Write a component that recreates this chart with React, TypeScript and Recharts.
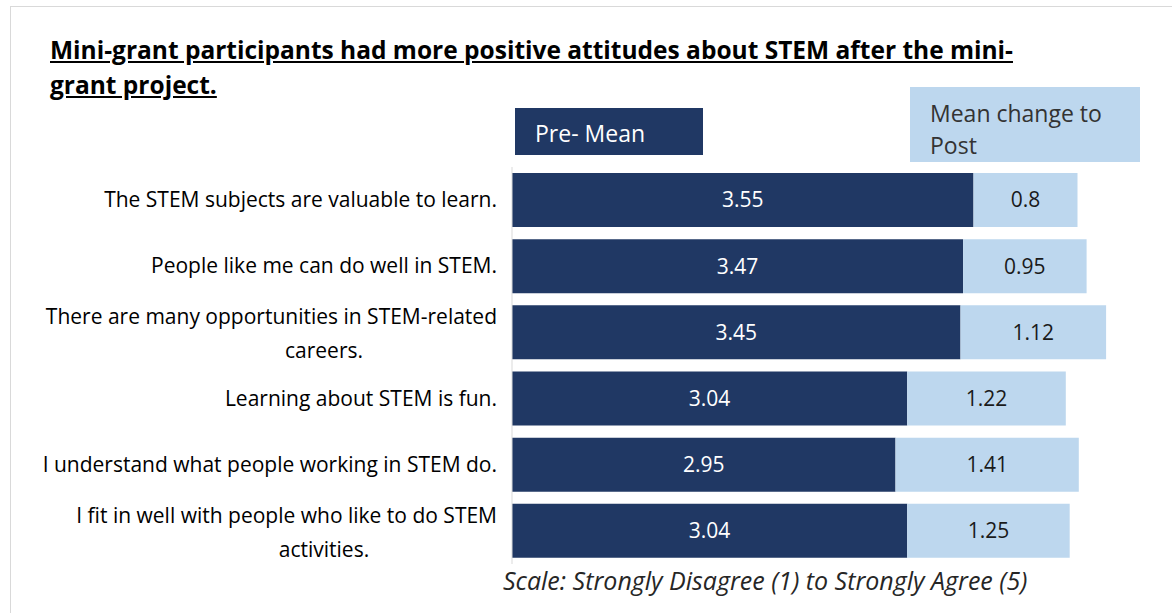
import { Bar, BarChart, LabelList, XAxis, YAxis } from 'recharts';

const statements = [
  ['The STEM subjects are valuable to learn.'],
  ['People like me can do well in STEM.'],
  ['There are many opportunities in STEM-related', 'careers.'],
  ['Learning about STEM is fun.'],
  ['I understand what people working in STEM do.'],
  ['I fit in well with people who like to do STEM', 'activities.'],
];
const preMean = [3.55, 3.47, 3.45, 3.04, 2.95, 3.04];
const meanChange = [0.8, 0.95, 1.12, 1.22, 1.41, 1.25];

const DARK = '#203864';
const LIGHT = '#BDD7EE';
const FONT = '"Open Sans", "Noto Sans", sans-serif';

const data = statements.map((lines, i) => ({
  label: lines.join(' '),
  lines,
  pre: preMean[i],
  change: meanChange[i],
}));

const StatementTick = ({ x, y, index }: any) => {
  const lines = data[index]?.lines ?? [];
  if (lines.length === 1) {
    return (
      <text x={x - 7} y={y} dy={7} textAnchor='end' fontSize={21} fill='#000' fontFamily={FONT}>
        {lines[0]}
      </text>
    );
  }
  return (
    <g>
      <text x={x - 7} y={y - 15} dy={7} textAnchor='end' fontSize={21} fill='#000' fontFamily={FONT}>
        {lines[0]}
      </text>
      <text x={x - 180} y={y + 19} dy={7} textAnchor='middle' fontSize={21} fill='#000' fontFamily={FONT}>
        {lines[1]}
      </text>
    </g>
  );
};

export default function App() {
  return (
    <div
      style={{
        position: 'absolute',
        left: 0,
        top: 0,
        width: 1172,
        height: 613,
        overflow: 'hidden',
        background: '#fff',
        fontFamily: FONT,
      }}
    >
      {/* frame */}
      <div
        style={{
          position: 'absolute',
          left: 10,
          top: 6,
          width: 1200,
          height: 700,
          border: '1px solid #d9d9d9',
        }}
      />
      <div
        style={{
          position: 'absolute',
          left: 50,
          top: 32,
          fontSize: 24.5,
          fontWeight: 700,
          lineHeight: '35px',
          textDecoration: 'underline',
          color: '#000',
          whiteSpace: 'nowrap',
        }}
      >
        <div>Mini-grant participants had more positive attitudes about STEM after the mini-</div>
        <div>grant project.</div>
      </div>

      {/* legend boxes */}
      <div
        style={{
          position: 'absolute',
          left: 515,
          top: 108,
          width: 188,
          height: 47,
          background: DARK,
          color: '#fff',
          fontSize: 23,
          lineHeight: '50px',
          paddingLeft: 20,
          boxSizing: 'border-box',
          whiteSpace: 'nowrap',
        }}
      >
        Pre- Mean
      </div>
      <div
        style={{
          position: 'absolute',
          left: 910,
          top: 87,
          width: 230,
          height: 75,
          background: LIGHT,
          color: '#333',
          fontSize: 23,
          lineHeight: '32px',
          padding: '10px 0 0 20px',
          boxSizing: 'border-box',
          whiteSpace: 'nowrap',
        }}
      >
        Mean change to
        <br />
        Post
      </div>

      <div style={{ position: 'absolute', left: 0, top: 0 }}>
        <BarChart
          width={1172}
          height={613}
          data={data}
          layout='vertical'
          margin={{ top: 167, right: 10, bottom: 49, left: 0 }}
        >
          <XAxis type='number' domain={[0, 5]} hide />
          <YAxis
            type='category'
            dataKey='label'
            width={512}
            tickLine={false}
            axisLine={{ stroke: '#d9d9d9' }}
            tick={<StatementTick />}
            interval={0}
          />
          <Bar dataKey='pre' stackId='a' fill={DARK} barSize={54} isAnimationActive={false}>
            <LabelList dataKey='pre' position='center' fill='#fff' fontSize={21} fontFamily={FONT} />
          </Bar>
          <Bar dataKey='change' stackId='a' fill={LIGHT} barSize={54} isAnimationActive={false}>
            <LabelList dataKey='change' position='center' fill='#1a1a1a' fontSize={21} fontFamily={FONT} />
          </Bar>
        </BarChart>
      </div>

      <div
        style={{
          position: 'absolute',
          left: 503,
          top: 563,
          fontSize: 25,
          lineHeight: '34px',
          fontStyle: 'italic',
          color: '#262626',
          whiteSpace: 'nowrap',
        }}
      >
        Scale: Strongly Disagree (1) to Strongly Agree (5)
      </div>
    </div>
  );
}
